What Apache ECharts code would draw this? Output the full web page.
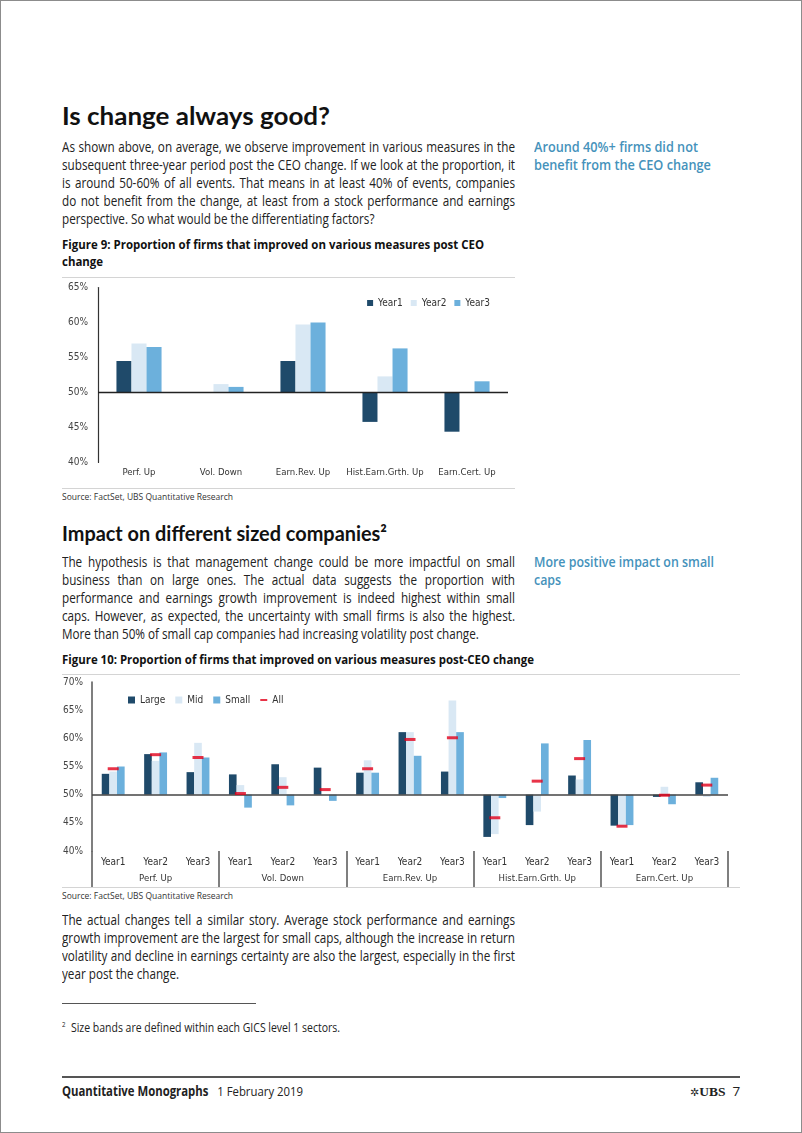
<!DOCTYPE html>
<html><head><meta charset="utf-8">
<script src="https://cdn.jsdelivr.net/npm/echarts@6/dist/echarts.min.js"></script>
<style>
html,body{margin:0;padding:0;background:#fff;}
#page{position:relative;width:802px;height:1133px;overflow:hidden;font-family:"Open Sans","Noto Sans",sans-serif;color:#222;}
#frame{position:absolute;left:0;top:0;width:800px;height:1131px;border:1px solid #8c8c8c;}
.abs{position:absolute;white-space:nowrap;transform-origin:0 0;}
.abs > div{white-space:nowrap;}
.abs span.m{display:inline-block;}
.h{font-family:Lato,"Open Sans",sans-serif;font-weight:700;color:#111;line-height:30px;left:62px;}
.body{font-size:13.6px;line-height:18px;left:62px;color:#222;}
.note{left:534px;font-size:14px;line-height:18px;color:#4592bb;font-weight:600;}
.fig{left:62px;font-size:13px;line-height:17px;font-weight:700;color:#111;}
.rule{position:absolute;height:0;border-top:1px solid #d4d4d4;}
.src{left:62px;font-size:9.5px;color:#333;line-height:12px;}
.chart{position:absolute;left:0;width:802px;}
</style></head>
<body>
<div id="page">
<div id="frame"></div>

<div class="abs h fit" data-w="268" style="top:100px;font-size:25px;"><div>Is change always good?</div></div>
<div class="abs body" style="top:138px;">
<div class="j">As shown above, on average, we observe improvement in various measures in the</div>
<div class="j">subsequent three-year period post the CEO change. If we look at the proportion, it</div>
<div class="j">is around 50-60% of all events. That means in at least 40% of events, companies</div>
<div class="j">do not benefit from the change, at least from a stock performance and earnings</div>
<div>perspective. So what would be the differentiating factors?</div>
</div>
<div class="abs note fit" data-w="164" style="top:138px;"><div>Around 40%+ firms did not</div><div>benefit from the CEO change</div></div>
<div class="abs fig fit" data-w="422" style="top:236px;"><div>Figure 9: Proportion of firms that improved on various measures post CEO</div><div>change</div></div>
<div class="rule" style="left:62px;width:453px;top:277px;"></div>
<div id="c9" class="chart" style="top:278px;height:210px;"></div>
<div class="rule" style="left:62px;width:453px;top:488px;"></div>
<div class="abs src fit" data-w="171" style="top:491px;"><div>Source: FactSet, UBS Quantitative Research</div></div>

<div class="abs h fit" data-w="325" style="top:518px;font-size:21px;"><div>Impact on different sized companies²</div></div>
<div class="abs body" style="top:553px;">
<div class="j">The hypothesis is that management change could be more impactful on small</div>
<div class="j">business than on large ones. The actual data suggests the proportion with</div>
<div class="j">performance and earnings growth improvement is indeed highest within small</div>
<div class="j">caps. However, as expected, the uncertainty with small firms is also the highest.</div>
<div>More than 50% of small cap companies had increasing volatility post change.</div>
</div>
<div class="abs note fit" data-w="180" style="top:553px;"><div>More positive impact on small</div><div>caps</div></div>
<div class="abs fig fit" data-w="472" style="top:650.5px;"><div>Figure 10: Proportion of firms that improved on various measures post-CEO change</div></div>
<div class="rule" style="left:62px;width:678px;top:674px;"></div>
<div id="c10" class="chart" style="top:675px;height:212px;"></div>
<div class="rule" style="left:62px;width:678px;top:887px;"></div>
<div class="abs src fit" data-w="171" style="top:890px;"><div>Source: FactSet, UBS Quantitative Research</div></div>

<div class="abs body" style="top:911px;">
<div class="j">The actual changes tell a similar story. Average stock performance and earnings</div>
<div class="j">growth improvement are the largest for small caps, although the increase in return</div>
<div class="j">volatility and decline in earnings certainty are also the largest, especially in the first</div>
<div>year post the change.</div>
</div>
<div class="rule" style="left:62px;width:194px;top:1003px;border-top-color:#555;"></div>
<div class="abs fit" data-w="278" style="left:62px;top:1018px;font-size:12px;line-height:14px;"><div><sup style="font-size:7px;">2</sup>&nbsp; Size bands are defined within each GICS level 1 sectors.</div></div>

<div class="rule" style="left:62px;width:678px;top:1076px;border-top:2px solid #555;"></div>
<div class="abs fit" data-w="241" style="left:62px;top:1083px;font-size:13.5px;line-height:16px;"><div><b>Quantitative Monographs</b>&nbsp;&nbsp; 1 February 2019</div></div>
<div class="abs" style="left:690px;top:1083px;font-size:13.5px;line-height:16px;"><span style="font-family:'DejaVu Sans';font-size:11px;">✲</span><span style="font-family:'Liberation Serif';font-weight:700;">UBS</span>&nbsp; 7</div>
</div>

<script>
// ---------- Data ----------
const fig9Categories = ['Perf. Up', 'Vol. Down', 'Earn.Rev. Up', 'Hist.Earn.Grth. Up', 'Earn.Cert. Up'];
const fig9Year1 = [54.5, 50.0, 54.5, 45.8, 44.4];
const fig9Year2 = [57.0, 51.2, 59.7, 52.3, 50.0];
const fig9Year3 = [56.5, 50.8, 60.0, 56.3, 51.6];

const fig10Groups = ['Perf. Up', 'Vol. Down', 'Earn.Rev. Up', 'Hist.Earn.Grth. Up', 'Earn.Cert. Up'];
const fig10Years = ['Year1', 'Year2', 'Year3'];
const fig10Large = [53.7, 57.2, 54.0, 53.6, 55.4, 54.8, 53.9, 61.1, 54.1, 42.5, 44.6, 53.4, 44.5, 49.6, 52.2];
const fig10Mid   = [54.1, 56.0, 59.2, 51.7, 53.1, 50.0, 56.1, 61.1, 66.7, 43.0, 47.0, 52.7, 44.3, 51.4, 49.6];
const fig10Small = [55.0, 57.5, 56.6, 47.7, 48.1, 48.9, 53.9, 56.9, 61.1, 49.4, 59.1, 59.7, 44.6, 48.3, 53.0];
const fig10All   = [54.6, 57.1, 56.6, 50.2, 51.3, 50.9, 54.6, 59.8, 60.1, 45.9, 52.4, 56.4, 44.4, 49.9, 51.7];

const BASE = 50; // bars grow from the 50% line
const rel = arr => arr.map(v => +(v - BASE).toFixed(2));
const pct = v => (Math.round(v + BASE)) + '%';

// ---------- text fitting (condensed look) ----------
function wrapLines(block) {
  return Array.from(block.children).map(d => {
    const s = document.createElement('span');
    s.className = 'm';
    while (d.firstChild) s.appendChild(d.firstChild);
    d.appendChild(s);
    return { div: d, span: s, w: s.getBoundingClientRect().width };
  });
}
document.querySelectorAll('.fit').forEach(el => {
  const lines = wrapLines(el);
  const target = +el.dataset.w;
  const sc = target / lines[0].w;
  el.style.transform = 'scaleX(' + sc + ')';
});
(function () {
  const W = 453;
  const blocks = Array.from(document.querySelectorAll('.body'));
  const all = blocks.map(b => wrapLines(b));
  let s = 1;
  all.forEach(lines => lines.forEach(l => {
    if (l.div.classList.contains('j')) s = Math.min(s, W / l.w);
  }));
  s *= 0.995;
  const inner = W / s;
  blocks.forEach((b, bi) => {
    b.style.transform = 'scaleX(' + s + ')';
    all[bi].forEach(l => {
      if (!l.div.classList.contains('j')) return;
      const n = (l.span.textContent.match(/ /g) || []).length;
      if (n) l.span.style.wordSpacing = ((inner - l.w) / n) + 'px';
    });
  });
})();

const FONT = "'DejaVu Sans Condensed','Liberation Sans',sans-serif";
const C_DARK = '#1f4a6a', C_LIGHT = '#d9e8f4', C_MID = '#6cb0dc', C_RED = '#e2001a';

// ---------- Figure 9 ----------
const c9 = echarts.init(document.getElementById('c9'));
c9.setOption({
  animation: false,
  textStyle: { fontFamily: FONT },
  grid: { left: 98, right: 294, top: 9.5, bottom: 25.5 },
  legend: {
    data: ['Year1', 'Year2', 'Year3'], right: 312, top: 20, icon: 'rect',
    itemWidth: 6, itemHeight: 6, itemGap: 8, padding: 0,
    textStyle: { fontSize: 10, color: '#333', fontFamily: FONT }
  },
  xAxis: {
    type: 'category', data: fig9Categories,
    axisLine: { show: false, onZero: false }, axisTick: { show: false },
    axisLabel: { interval: 0, fontSize: 9.5, color: '#333', margin: 5, fontFamily: FONT }
  },
  yAxis: {
    type: 'value', min: -10, max: 15, interval: 5,
    axisLine: { show: true, lineStyle: { color: '#333', width: 1.2 } },
    axisTick: { show: false }, splitLine: { show: false },
    axisLabel: { formatter: pct, fontSize: 10, color: '#444', margin: 10, fontFamily: FONT }
  },
  series: [
    { name: 'Year1', type: 'bar', data: rel(fig9Year1), itemStyle: { color: C_DARK },
      barGap: '0%', barCategoryGap: '45%',
      markLine: { silent: true, symbol: ['none', 'none'], label: { show: false },
        lineStyle: { color: '#222', width: 1.3, type: 'solid' }, data: [{ yAxis: 0 }] } },
    { name: 'Year2', type: 'bar', data: rel(fig9Year2), itemStyle: { color: C_LIGHT }, barGap: '0%', barCategoryGap: '45%' },
    { name: 'Year3', type: 'bar', data: rel(fig9Year3), itemStyle: { color: C_MID }, barGap: '0%', barCategoryGap: '45%' }
  ]
});

// ---------- Figure 10 ----------
const fig10Cats = [];
fig10Groups.forEach(() => fig10Years.forEach(y => fig10Cats.push(y)));
const c10 = echarts.init(document.getElementById('c10'));
const barCommon = { type: 'bar', barGap: '0%', barCategoryGap: '46%' };
c10.setOption({
  animation: false,
  textStyle: { fontFamily: FONT },
  grid: { left: 92, right: 74, top: 7, bottom: 36 },
  legend: {
    left: 128, top: 20, itemWidth: 7, itemHeight: 7, itemGap: 10, padding: 0,
    textStyle: { fontSize: 10, color: '#333', fontFamily: FONT },
    data: [
      { name: 'Large', icon: 'rect' },
      { name: 'Mid', icon: 'rect' },
      { name: 'Small', icon: 'rect' },
      { name: 'All', icon: 'path://M0,0M10,10M0,3.6H10V6.4H0Z' }
    ]
  },
  xAxis: [
    { type: 'category', data: fig10Cats, position: 'bottom',
      axisLine: { show: false, onZero: false }, axisTick: { show: false },
      axisLabel: { interval: 0, fontSize: 10, color: '#333', margin: 6, fontFamily: FONT } },
    { type: 'category', data: fig10Groups, position: 'bottom',
      axisLine: { show: false, onZero: false },
      axisTick: { show: true, interval: 0, length: 36, lineStyle: { color: '#555', width: 1.5 } },
      axisLabel: { interval: 0, fontSize: 9.5, color: '#333', margin: 23, fontFamily: FONT } }
  ],
  yAxis: {
    type: 'value', min: -10, max: 20, interval: 5,
    axisLine: { show: true, lineStyle: { color: '#555', width: 1.5 } },
    axisTick: { show: false }, splitLine: { show: false },
    axisLabel: { formatter: pct, fontSize: 10, color: '#444', margin: 9, fontFamily: FONT }
  },
  series: [
    Object.assign({ name: 'Large', data: rel(fig10Large), itemStyle: { color: C_DARK },
      markLine: { silent: true, symbol: ['none', 'none'], label: { show: false },
        lineStyle: { color: '#444', width: 1.5, type: 'solid' }, data: [{ yAxis: 0 }] } }, barCommon),
    Object.assign({ name: 'Mid', data: rel(fig10Mid), itemStyle: { color: C_LIGHT } }, barCommon),
    Object.assign({ name: 'Small', data: rel(fig10Small), itemStyle: { color: C_MID } }, barCommon),
    { name: 'All', type: 'scatter', data: rel(fig10All), symbol: 'rect', symbolSize: [11, 3],
      itemStyle: { color: C_RED }, z: 5 }
  ]
});
</script>
</body></html>
